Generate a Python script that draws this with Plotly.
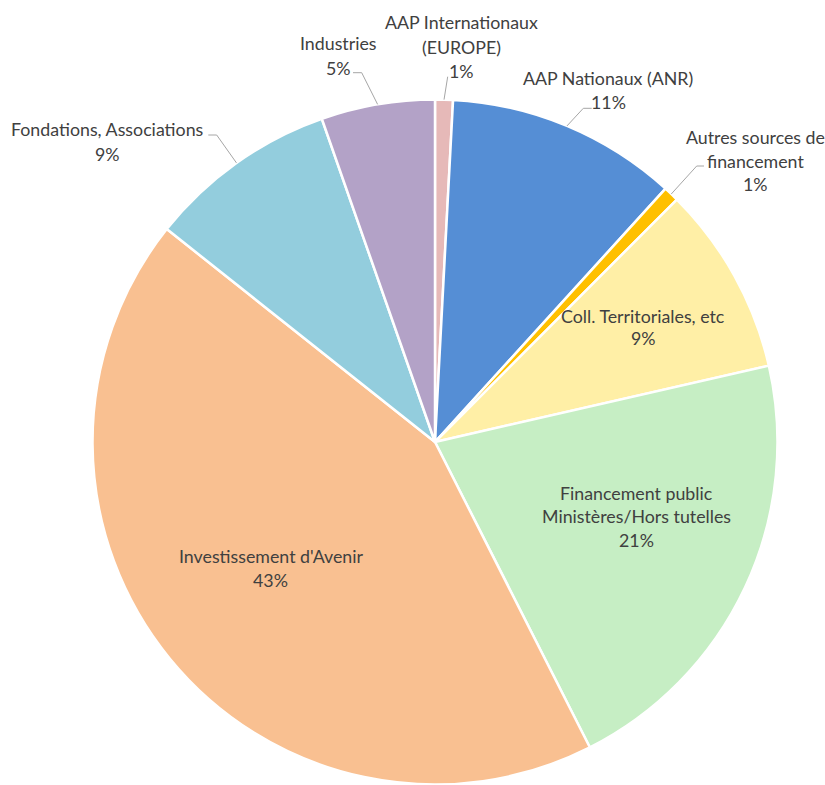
import math
import plotly.graph_objects as go

# ---- data ----
categories = [
    "AAP Internationaux (EUROPE)",
    "AAP Nationaux (ANR)",
    "Autres sources de financement",
    "Coll. Territoriales, etc",
    "Financement public Ministères/Hors tutelles",
    "Investissement d'Avenir",
    "Fondations, Associations",
    "Industries",
]
values = [0.84, 10.91, 0.73, 8.94, 21.11, 43.15, 8.96, 5.36]
label_lines = [
    ["AAP Internationaux", "(EUROPE)"],
    ["AAP Nationaux (ANR)"],
    ["Autres sources de", "financement"],
    ["Coll. Territoriales, etc"],
    ["Financement public", "Ministères/Hors tutelles"],
    ["Investissement d'Avenir"],
    ["Fondations, Associations"],
    ["Industries"],
]
colors = ["#E6B9B8", "#558ED5", "#FFC000", "#FFEFA6",
          "#C6EEC4", "#F9C091", "#93CDDD", "#B3A2C7"]

# ---- layout geometry (pixels) ----
W, H = 825, 785
CX, CY, R = 435.0, 442.0, 342.5

def px(x):
    return x / W

def py(y):
    return 1 - y / H

# label placement: (center x, first line y, line gap) ; leader elbow points
label_pos = [
    (461, 22.5, 24.5),
    (608, 78.5, 24.0),
    (755, 137.0, 23.5),
    (643, 315.5, 22.5),
    (636, 492.7, 23.5),
    (270.5, 555.5, 24.0),
    (107, 129.0, 24.5),
    (338, 43.0, 25.0),
]
leaders = {
    0: [(447.7, 76.7)],
    1: [(583.3, 108.3), (591.7, 108.3)],
    2: [(696.7, 166.0), (704.0, 166.0)],
    6: [(216.7, 135.0), (208.3, 135.0)],
    7: [(361.7, 72.7), (353.0, 72.7)],
}

FONT = "Lato, Carlito, Calibri, sans-serif"
TXT = "#404040"

fig = go.Figure(go.Pie(
    labels=categories,
    values=values,
    sort=False,
    direction="clockwise",
    rotation=0,
    textinfo="none",
    hoverinfo="label+percent",
    marker=dict(colors=colors, line=dict(color="white", width=2.5)),
    domain=dict(x=[px(CX - R), px(CX + R)], y=[max(0, py(CY + R)), py(CY - R)]),
    showlegend=False,
))

total = sum(values)
annotations = []
shapes = []
cum = 0.0
for i, v in enumerate(values):
    mid = (cum + v / 2) / total * 2 * math.pi
    cum += v
    pct = f"{round(v / total * 100)}%"
    lines = label_lines[i] + [pct]
    x0, y0, gap = label_pos[i]
    for k, t in enumerate(lines):
        annotations.append(dict(
            x=px(x0), y=py(y0 + k * gap), xref="paper", yref="paper",
            text=t, showarrow=False, xanchor="center", yanchor="middle",
            font=dict(family=FONT, size=17.8, color=TXT),
        ))
    if i in leaders:
        sx = CX + R * math.sin(mid)
        sy = CY - R * math.cos(mid)
        pts = [(sx, sy)] + leaders[i]
        for (a, b), (c, d) in zip(pts[:-1], pts[1:]):
            shapes.append(dict(
                type="line", xref="paper", yref="paper",
                x0=px(a), y0=py(b), x1=px(c), y1=py(d),
                line=dict(color="#A6A6A6", width=1),
            ))

fig.update_layout(
    width=W, height=H,
    margin=dict(l=0, r=0, t=0, b=0),
    paper_bgcolor="white",
    plot_bgcolor="white",
    annotations=annotations,
    shapes=shapes,
)

fig.write_html("out.html")
